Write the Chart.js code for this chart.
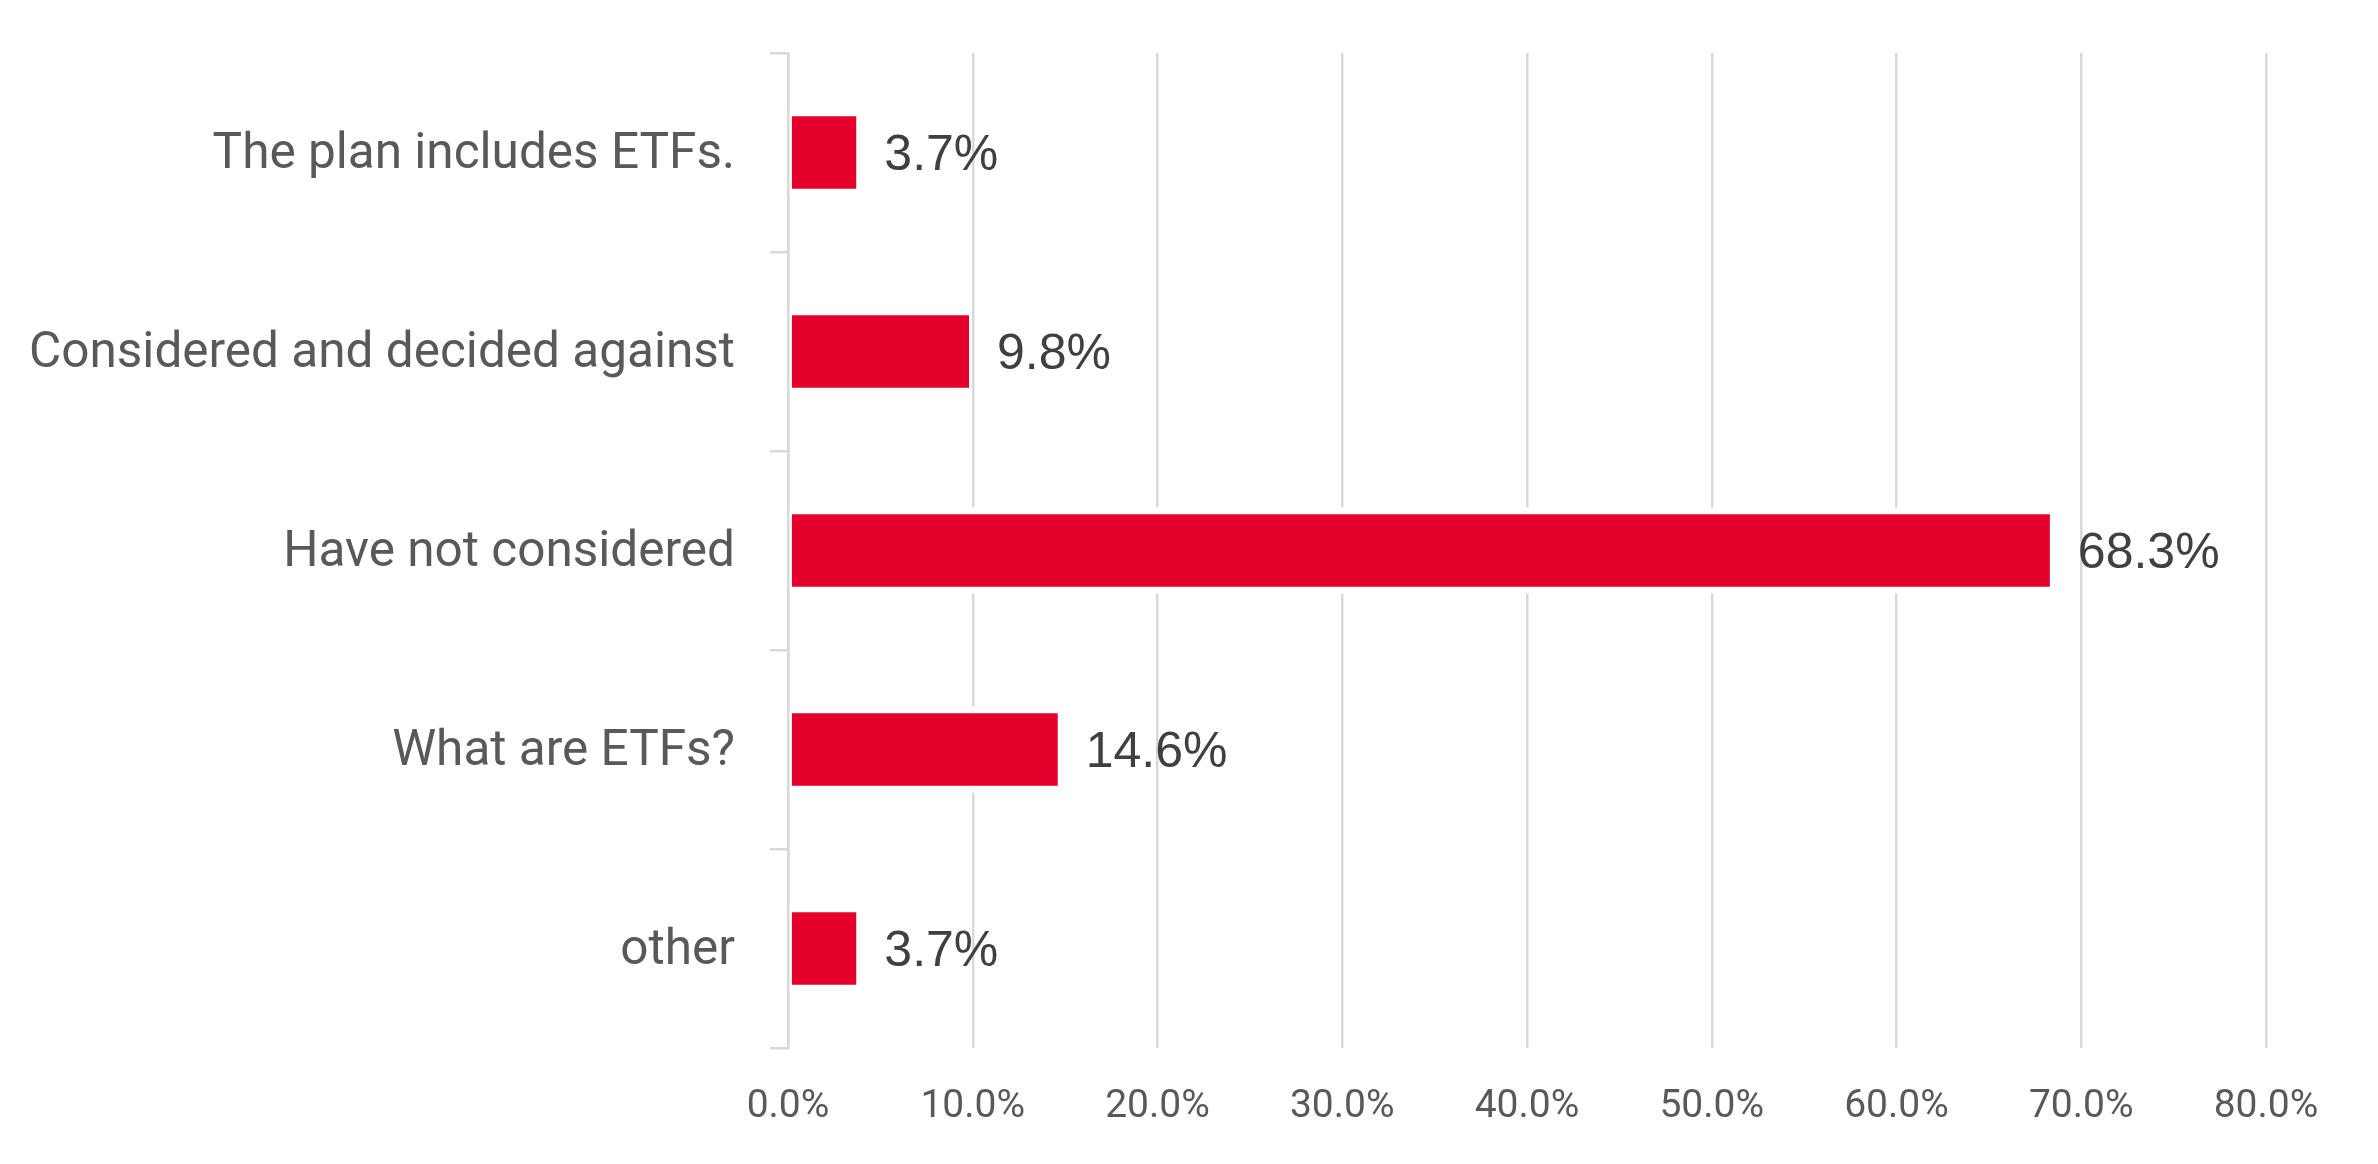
<!DOCTYPE html>
<html>
<head>
<meta charset="utf-8">
<script src="https://cdn.jsdelivr.net/npm/chart.js@4/dist/chart.umd.min.js"></script>
<style>
  html, body { margin: 0; padding: 0; background: #ffffff; }
  #myChart { display: block; }
</style>
</head>
<body>
<canvas id="myChart" width="2378" height="1164"></canvas>
<script>
// chart data
const categories = [
    'The plan includes ETFs.',
    'Considered and decided against',
    'Have not considered',
    'What are ETFs?',
    'other'
];
const shares = [3.7, 9.8, 68.3, 14.6, 3.7];
const xTickValues = [0, 10, 20, 30, 40, 50, 60, 70, 80];

const barRed = '#e4002b';
const gridGray = '#d9d9d9';

// draws the percentage to the right of each bar
const valueLabels = {
    id: 'valueLabels',
    afterDatasetsDraw(chart) {
        const ctx = chart.ctx;
        const meta = chart.getDatasetMeta(0);
        ctx.save();
        ctx.font = '50px "Liberation Sans"';
        ctx.fillStyle = '#404040';
        ctx.textAlign = 'left';
        ctx.textBaseline = 'middle';
        meta.data.forEach((bar, i) => {
            const v = chart.data.datasets[0].data[i];
            ctx.fillText(v.toFixed(1) + '%', bar.x + 28, bar.y + 4);
        });
        ctx.restore();
    }
};

const ctx = document.getElementById('myChart').getContext('2d');

new Chart(ctx, {
    type: 'bar',
    data: {
        labels: categories,
        datasets: [{
            data: shares,
            backgroundColor: barRed,
            borderColor: '#ffffff',
            borderWidth: { top: 7, bottom: 7, left: 3, right: 0 },
            borderSkipped: false,
            barThickness: 86
        }]
    },
    options: {
        indexAxis: 'y',
        responsive: false,
        devicePixelRatio: 1,
        animation: false,
        layout: {
            padding: { top: 53, right: 112, bottom: 0, left: 0 }
        },
        plugins: {
            legend: { display: false },
            tooltip: { enabled: false }
        },
        scales: {
            x: {
                min: 0,
                max: 80,
                afterBuildTicks(scale) {
                    scale.ticks = xTickValues.map(v => ({ value: v }));
                },
                afterFit(scale) {
                    scale.height = 116;
                },
                grid: {
                    color: gridGray,
                    lineWidth: 2.5,
                    drawTicks: false
                },
                border: { display: false },
                ticks: {
                    padding: 36,
                    color: '#595959',
                    font: { family: 'Roboto', size: 39 },
                    callback: v => v.toFixed(1) + '%'
                }
            },
            y: {
                afterFit(scale) {
                    scale.width = 788;
                    // labels sit inside their bands, no extra room needed
                    scale.paddingTop = 0;
                    scale.paddingBottom = 0;
                },
                grid: {
                    offset: true,
                    drawOnChartArea: false,
                    color: gridGray,
                    lineWidth: 2.5,
                    tickLength: 18
                },
                border: {
                    display: true,
                    color: gridGray,
                    width: 2.5,
                    z: 1
                },
                ticks: {
                    padding: 35,
                    labelOffset: 3,
                    color: '#595959',
                    font: { family: 'Roboto', size: 49.5 }
                }
            }
        }
    },
    plugins: [valueLabels]
});
</script>
</body>
</html>
